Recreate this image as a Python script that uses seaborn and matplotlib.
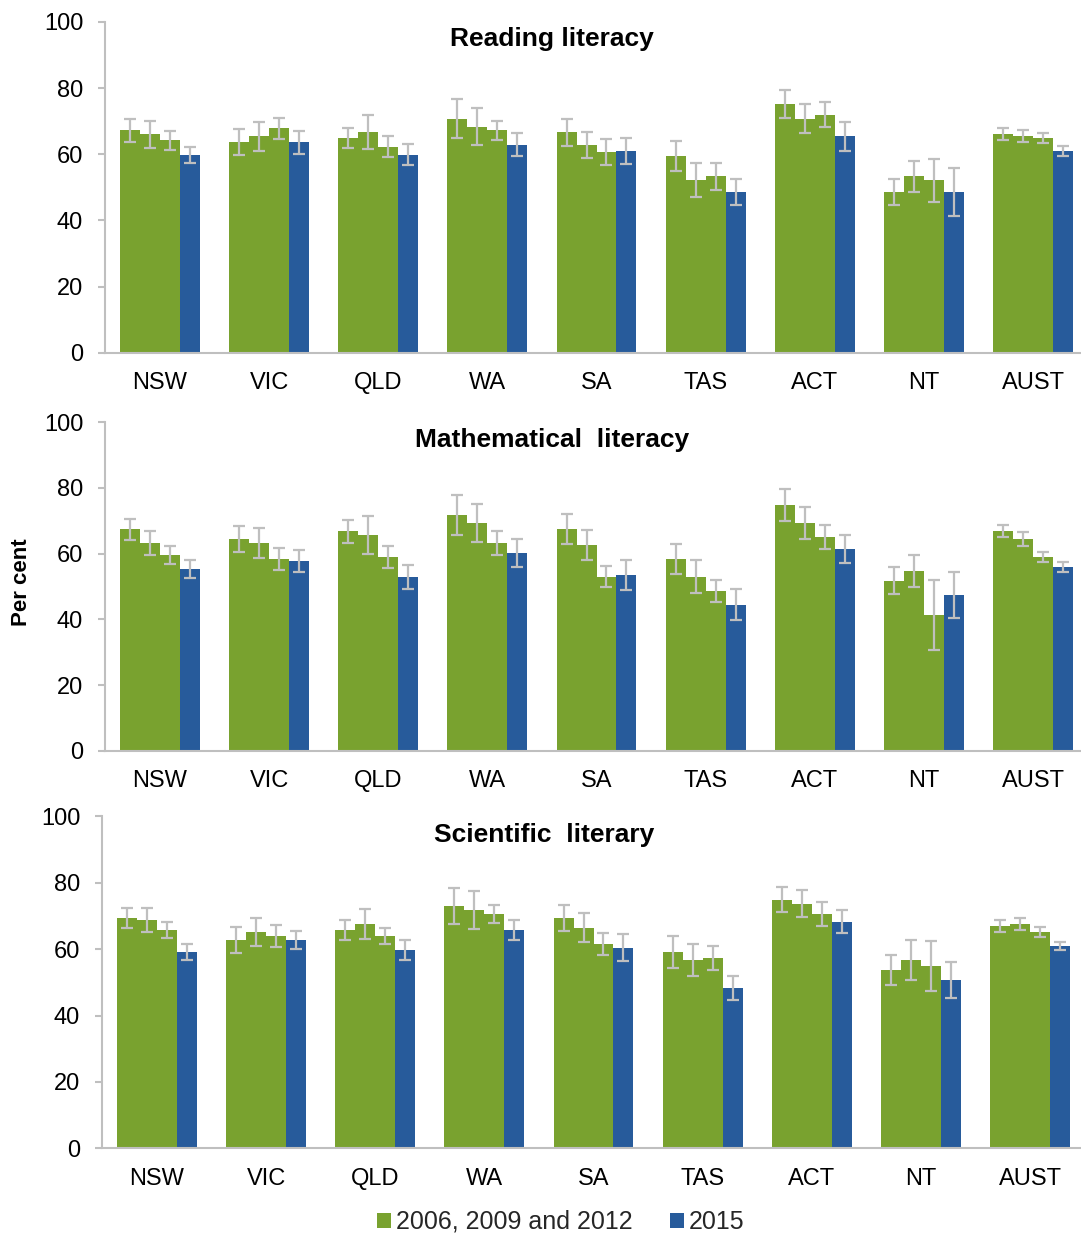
import matplotlib
matplotlib.use("Agg")
import matplotlib.pyplot as plt
import matplotlib.patches as mpatches
import pandas as pd
import seaborn as sns

# ---- data -------------------------------------------------------------
states = ["NSW", "VIC", "QLD", "WA", "SA", "TAS", "ACT", "NT", "AUST"]
years = ["2006", "2009", "2012", "2015"]

# Reading literacy: per cent of students, with 95% confidence half-widths
reading_2006 = [67.2, 63.6, 64.8, 70.8, 66.6, 59.4, 75.1, 48.5, 66.0]
reading_2009 = [66.0, 65.4, 66.7, 68.4, 62.9, 52.2, 70.8, 53.3, 65.4]
reading_2012 = [64.2, 67.8, 62.3, 67.2, 60.6, 53.3, 72.0, 52.1, 64.8]
reading_2015 = [59.9, 63.6, 59.9, 62.9, 61.1, 48.5, 65.4, 48.5, 61.1]
reading_ci_2006 = [3.6, 3.9, 3.0, 5.8, 4.2, 4.5, 4.2, 3.9, 1.8]
reading_ci_2009 = [4.0, 4.5, 5.2, 5.5, 3.9, 5.2, 4.5, 4.6, 1.8]
reading_ci_2012 = [2.8, 3.1, 3.1, 3.0, 3.9, 4.2, 3.7, 6.4, 1.5]
reading_ci_2015 = [2.4, 3.4, 3.1, 3.4, 3.9, 3.9, 4.5, 7.3, 1.5]

# Mathematical literacy
maths_2006 = [67.4, 64.4, 66.8, 71.7, 67.4, 58.4, 74.8, 51.8, 66.8]
maths_2009 = [63.3, 63.3, 65.6, 69.4, 62.6, 53.0, 69.4, 54.8, 64.4]
maths_2012 = [59.5, 58.3, 59.0, 63.3, 53.0, 48.7, 65.1, 41.4, 59.0]
maths_2015 = [55.3, 57.8, 52.9, 60.2, 53.5, 44.5, 61.4, 47.5, 56.0]
maths_ci_2006 = [3.3, 4.0, 3.6, 6.1, 4.6, 4.6, 4.9, 4.2, 1.8]
maths_ci_2009 = [3.7, 4.6, 5.8, 5.7, 4.5, 5.1, 4.9, 4.8, 2.1]
maths_ci_2012 = [2.7, 3.4, 3.4, 3.7, 3.3, 3.4, 3.7, 10.7, 1.5]
maths_ci_2015 = [2.7, 3.4, 3.6, 4.3, 4.6, 4.6, 4.3, 7.0, 1.5]

# Scientific literacy
science_2006 = [69.4, 62.7, 65.8, 73.0, 69.4, 59.2, 74.9, 53.8, 67.0]
science_2009 = [68.8, 65.2, 67.6, 71.8, 66.5, 56.8, 73.7, 56.8, 67.6]
science_2012 = [65.8, 64.0, 64.0, 70.6, 61.6, 57.4, 70.7, 55.0, 65.2]
science_2015 = [59.2, 62.7, 59.7, 65.8, 60.4, 48.4, 68.3, 50.8, 60.9]
science_ci_2006 = [3.1, 4.0, 3.1, 5.4, 4.0, 4.8, 3.7, 4.5, 1.8]
science_ci_2009 = [3.7, 4.3, 4.6, 5.8, 4.3, 4.8, 4.0, 6.0, 1.8]
science_ci_2012 = [2.5, 3.4, 2.4, 2.7, 3.4, 3.6, 3.6, 7.5, 1.5]
science_ci_2015 = [2.4, 2.7, 3.0, 3.0, 4.0, 3.6, 3.6, 5.4, 1.2]

panel_titles = ["Reading literacy", "Mathematical  literacy", "Scientific  literary"]
legend_labels = ["2006, 2009 and 2012", "2015"]

# ---- styling ------------------------------------------------------------
GREEN = "#79A22F"
BLUE = "#275B9B"
GREY = "#BFBFBF"

sns.set_theme(style="white")
plt.rcParams["font.family"] = ["Liberation Sans", "DejaVu Sans"]

panels = [
    ([reading_2006, reading_2009, reading_2012, reading_2015],
     [reading_ci_2006, reading_ci_2009, reading_ci_2012, reading_ci_2015]),
    ([maths_2006, maths_2009, maths_2012, maths_2015],
     [maths_ci_2006, maths_ci_2009, maths_ci_2012, maths_ci_2015]),
    ([science_2006, science_2009, science_2012, science_2015],
     [science_ci_2006, science_ci_2009, science_ci_2012, science_ci_2015]),
]

W, H = 1081, 1237
fig = plt.figure(figsize=(W / 100, H / 100), dpi=100)

# axes boxes in pixel terms: (left, right, y of 100, y of 0)
boxes = [(105.4, 1087.6, 22.0, 352.7),
         (105.4, 1087.6, 422.3, 750.7),
         (102.4, 1084.6, 816.3, 1148.3)]
title_pos = [(552, 39), (552, 440), (544, 835)]

palette = {"2006": GREEN, "2009": GREEN, "2012": GREEN, "2015": BLUE}

for (vals, cis), (l, r, ytop, ybot), title, (tx, ty) in zip(
        panels, boxes, panel_titles, title_pos):
    ax = fig.add_axes([l / W, 1 - ybot / H, (r - l) / W, (ybot - ytop) / H])

    df = pd.DataFrame({
        "state": states * len(years),
        "year": [y for y in years for _ in states],
        "value": [v for series in vals for v in series],
    })
    sns.barplot(data=df, x="state", y="value", hue="year",
                order=states, hue_order=years, palette=palette,
                width=0.733, errorbar=None, saturation=1.0,
                linewidth=0, legend=False, ax=ax)

    # confidence interval whiskers on each bar
    for container, ci in zip(ax.containers, cis):
        xs, hs, es = [], [], []
        for patch in container:
            xc = patch.get_x() + patch.get_width() / 2
            idx = int(round(xc))
            xs.append(xc)
            hs.append(patch.get_height())
            es.append(ci[idx])
        ax.errorbar(xs, hs, yerr=es, fmt="none", ecolor=GREY,
                    elinewidth=1.6, capsize=4.3, capthick=1.6, zorder=3)

    ax.set_xlim(-0.5, len(states) - 0.5)
    ax.set_ylim(0, 100)
    ax.set_yticks([0, 20, 40, 60, 80, 100])
    ax.set_xlabel("")
    ax.set_ylabel("")
    sns.despine(ax=ax, top=True, right=True)
    for side in ("left", "bottom"):
        ax.spines[side].set_color(GREY)
        ax.spines[side].set_linewidth(1.5)
    ax.tick_params(axis="y", length=5, width=1.5, color=GREY,
                   labelsize=17, pad=11, left=True)
    ax.tick_params(axis="x", length=0, labelsize=17, pad=14)
    for lab in ax.get_xticklabels() + ax.get_yticklabels():
        lab.set_color("black")

    fig.text(tx / W, 1 - ty / H, title, ha="center", va="center",
             fontsize=19, fontweight="bold", color="black")

fig.text(22 / W, 1 - 582 / H, "Per cent", rotation=90, ha="center",
         va="center", fontsize=16, fontweight="bold", color="black")

handles = [mpatches.Patch(facecolor=GREEN, edgecolor="none"),
           mpatches.Patch(facecolor=BLUE, edgecolor="none")]
fig.legend(handles, legend_labels, loc="center", ncol=2,
           bbox_to_anchor=(561 / W, 1 - 1222 / H), frameon=False,
           fontsize=18, handlelength=0.55, handleheight=0.55,
           handletextpad=0.2, columnspacing=1.5, borderpad=0)

fig.savefig("out.png", dpi=100)
